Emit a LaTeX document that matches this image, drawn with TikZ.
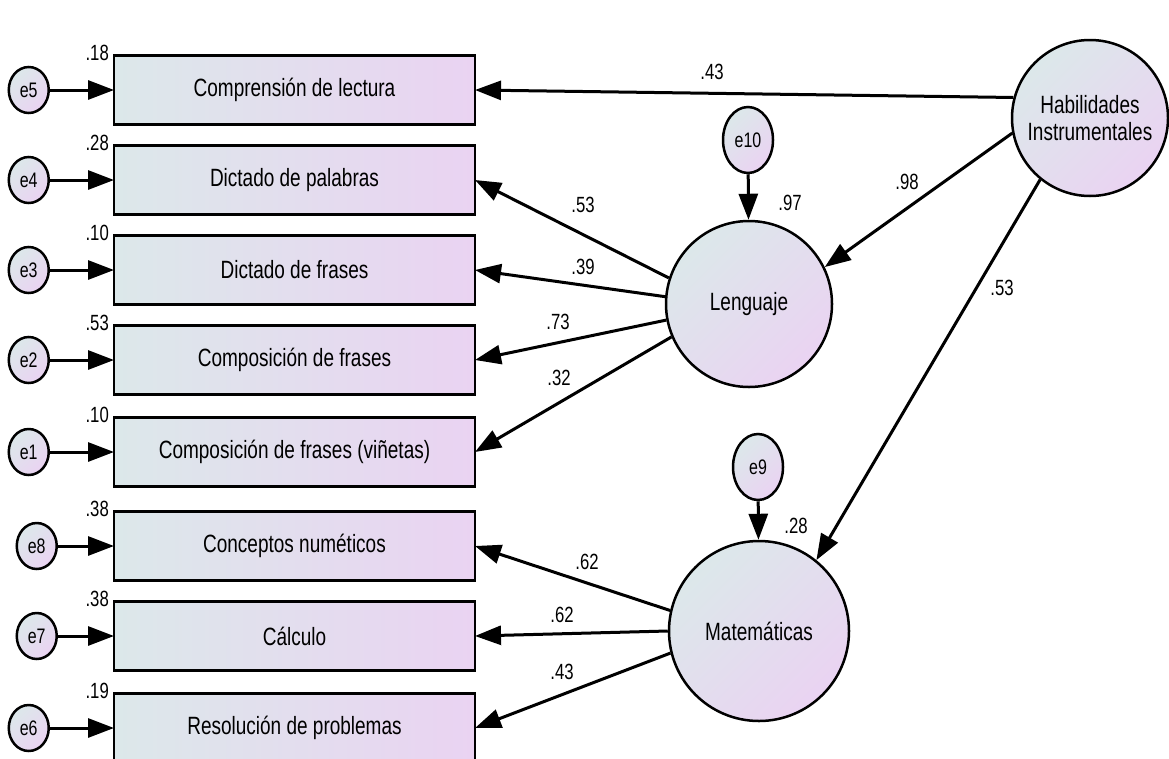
\documentclass[tikz,border=0pt]{standalone}
\usepackage{fontspec}
\setmainfont{Liberation Sans}[FakeStretch=0.76]
\usetikzlibrary{positioning,arrows.meta,shapes.geometric}
\definecolor{shadeL}{RGB}{220,232,234}
\definecolor{shadeR}{RGB}{234,211,242}

\begin{document}
\begin{tikzpicture}[x=1pt, y=-1pt,
  obs/.style={draw, line width=2.8pt, minimum width=361pt, minimum height=69pt, inner sep=0pt, outer sep=0pt,
    left color=shadeL, right color=shadeR, font=\fontsize{25}{28}\selectfont},
  lat/.style={circle, draw, line width=2.5pt, inner sep=0pt, align=center,
    left color=shadeL, right color=shadeR, shading angle=45, font=\fontsize{25}{27}\selectfont},
  err/.style={ellipse, draw, line width=2.5pt, minimum width=40pt, minimum height=46pt, inner sep=0pt,
    left color=shadeL, right color=shadeR, shading angle=45, font=\fontsize{21}{22}\selectfont},
  arr/.style={-{Triangle[length=26pt,width=19pt]}, line width=3pt},
  var/.style={anchor=east, inner sep=0pt, xshift=-5pt, yshift=3pt, font=\fontsize{22}{22}\selectfont},
  coef/.style={inner sep=0pt, font=\fontsize{22}{22}\selectfont},
]
\useasboundingbox (0,0) rectangle (1169,758);

% observed variables
\node[obs] (b1) at (294.5,90) {Comprensión de lectura};
\node[obs, below=21pt of b1] (b2) {Dictado de palabras};
\node[obs, below=21pt of b2] (b3) {Dictado de frases};
\node[obs, below=21pt of b3] (b4) {Composición de frases};
\node[obs, below=23pt of b4] (b5) {Composición de frases (viñetas)};
\node[obs, below=25pt of b5] (b6) {Conceptos numéticos};
\node[obs, below=21pt of b6] (b7) {Cálculo};
\node[obs, below=23pt of b7] (b8) {Resolución de problemas};

\node[var] at (b1.north west) {.18};
\node[var] at (b2.north west) {.28};
\node[var] at (b3.north west) {.10};
\node[var] at (b4.north west) {.53};
\node[var] at (b5.north west) {.10};
\node[var] at (b6.north west) {.38};
\node[var] at (b7.north west) {.38};
\node[var] at (b8.north west) {.19};

% errors
\node[err, left=64pt of b1] (e5) {e5};
\node[err, left=64pt of b2] (e4) {e4};
\node[err, left=64pt of b3] (e3) {e3};
\node[err, left=64pt of b4] (e2) {e2};
\node[err, left=64pt of b5] (e1) {e1};
\node[err, left=56pt of b6] (e8) {e8};
\node[err, left=56pt of b7] (e7) {e7};
\node[err, left=64pt of b8] (e6) {e6};
\foreach \e/\b in {e5/b1,e4/b2,e3/b3,e2/b4,e1/b5,e8/b6,e7/b7,e6/b8}
  \draw[arr] (\e) -- (\b);

% latent variables
\node[lat, minimum size=156pt] (hab) at (1090,118) {Habilidades\\Instrumentales};
\node[lat, minimum size=166pt] (leng) at (749,304) {Lenguaje};
\node[lat, minimum size=180pt] (mat) at (759,631) {Matemáticas};
\node[err, minimum width=50pt, minimum height=66pt] (e10) at (748,140) {e10};
\node[err, minimum width=50pt, minimum height=66pt] (e9) at (758,467) {e9};

\draw[arr] (hab.165) -- (b1.east) node[coef] at (712,72) {.43};
\draw[arr] (hab.191) -- (leng.26) node[coef] at (907,182) {.98};
\draw[arr] (hab.231) -- (mat.51) node[coef] at (1002,288) {.53};
\draw[arr] (e10) -- (leng) node[coef] at (790,203) {.97};
\draw[arr] (e9) -- (mat) node[coef] at (796,526) {.28};

\draw[arr] (leng.162) -- (b2.east) node[coef] at (583,205) {.53};
\draw[arr] (leng.175) -- (b3.east) node[coef] at (583,267) {.39};
\draw[arr] (leng.191) -- (b4.east) node[coef] at (558,322) {.73};
\draw[arr] (leng.203) -- (b5.east) node[coef] at (559,378) {.32};

\draw[arr] (mat.167) -- (b6.east) node[coef] at (587,562) {.62};
\draw[arr] (mat.180) -- (b7.east) node[coef] at (562,615) {.62};
\draw[arr] (mat.194) -- (b8.east) node[coef] at (562,672) {.43};
\end{tikzpicture}
\end{document}
